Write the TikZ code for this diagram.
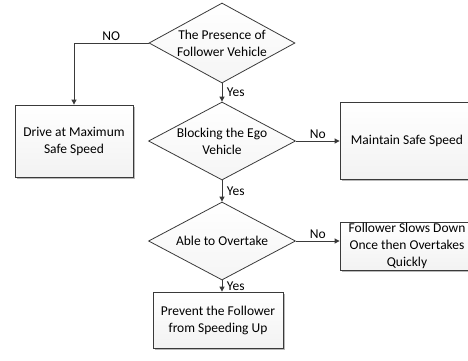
\documentclass[tikz,border=0pt]{standalone}
\usepackage{fontspec}
\setmainfont{Carlito}
\usetikzlibrary{shapes.geometric,arrows.meta,shadows}
\definecolor{linec}{HTML}{3A3A3A}
\begin{document}
\begin{tikzpicture}[x=1pt,y=-1pt,
  font=\fontsize{13.5}{17}\selectfont,
  procbox/.style={draw=linec, line width=0.8pt, top color=white, bottom color=gray!10,
     drop shadow={shadow xshift=1.5pt, shadow yshift=-1.5pt, fill=gray!55, opacity=1},
     align=center, inner sep=2pt},
  dia/.style={diamond, draw=linec, line width=0.8pt, top color=white, bottom color=gray!8, inner sep=0pt},
  dtext/.style={align=center, inner sep=0pt},
  conn/.style={draw=linec, line width=0.9pt, -{Triangle[length=5pt,width=5pt]}},
  lbl/.style={inner sep=1.5pt},
  ylbl/.style={inner sep=1.5pt, right, xshift=3pt}]
\useasboundingbox (0,0) rectangle (468,360);
% decisions
\node[dia, minimum width=146pt, minimum height=80pt] (d1) at (222,43) {};
\node[dtext] at (d1) {The Presence of\\Follower Vehicle};
\node[dia, minimum width=147pt, minimum height=78pt] (d2) at (222,141) {};
\node[dtext] at (d2) {Blocking the Ego\\Vehicle};
\node[dia, minimum width=147pt, minimum height=78pt] (d3) at (222,241) {};
\node[dtext] at (d3) {Able to Overtake};
% boxes
\node[procbox, minimum width=118pt, minimum height=72pt] (drive) at (74,141) {Drive at Maximum\\Safe Speed};
\node[procbox, minimum width=134pt, minimum height=77pt] (maintain) at (407,140.5) {Maintain Safe Speed};
\node[procbox, minimum width=134pt, minimum height=48pt, inner sep=1pt] (follow) at (407,246) {Follower Slows Down\\Once then Overtakes\\Quickly};
\node[procbox, minimum width=130pt, minimum height=56pt] (prevent) at (218,320) {Prevent the Follower\\from Speeding Up};
% connectors
\draw[conn] (d1.west) -| node[lbl, pos=0.25, above] {NO} (drive.north);
\draw[conn] (d1.south) -- node[ylbl] {Yes} (d2.north);
\draw[conn] (d2.east) -- node[lbl, above] {No} (d2.east -| maintain.west);
\draw[conn] (d2.south) -- node[ylbl] {Yes} (d3.north);
\draw[conn] (d3.east) -- node[lbl, above] {No} (d3.east -| follow.west);
\draw[conn] (d3.south) -- node[ylbl] {Yes} (d3.south |- prevent.north);
\end{tikzpicture}
\end{document}
